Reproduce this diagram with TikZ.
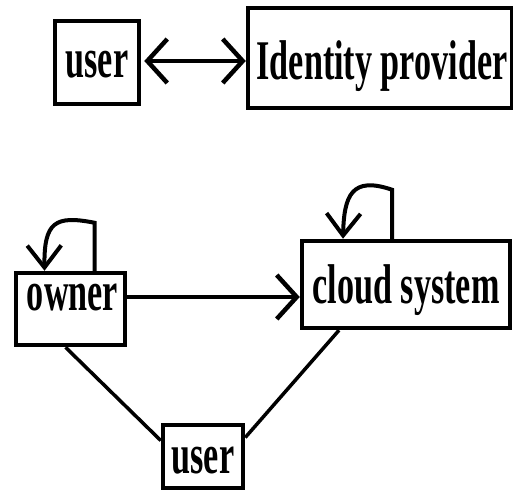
\documentclass[tikz,border=0pt]{standalone}
\usepackage{fontspec}
\usepackage{graphicx}
\setmainfont{Liberation Serif}
\usetikzlibrary{arrows.meta}
\newcommand\cond[1]{\scalebox{0.61}[1]{\bfseries #1}}
\tikzset{
  box/.style={draw, line width=4.5pt, inner sep=0pt, font=\fontsize{56}{56}\selectfont, text depth=0pt},
  barb/.tip={Straight Barb[length=20pt,width=44pt,line width=4.5pt]},
  sbarb/.tip={Straight Barb[length=22pt,width=34pt,line width=4pt]},
  conn/.style={line width=4.5pt},
  loop/.style={line width=4pt, -sbarb},
  plain/.style={line width=3.5pt}
}
\begin{document}
\begin{tikzpicture}[x=1pt,y=-1pt]
\useasboundingbox (0,0) rectangle (513,489);
\node[box, minimum width=84pt, minimum height=83pt, text height=31pt] (user) at (97,62.5) {\cond{user}};
\node[box, minimum width=264pt, minimum height=100pt, text height=44pt] (idp) at (380,58) {\hspace{4pt}\cond{Identity provider}};
\node[box, minimum width=109pt, minimum height=72pt, text height=2pt] (owner) at (70.5,309) {\hspace{4pt}\cond{owner}};
\node[box, minimum width=208pt, minimum height=87pt, text height=37pt] (cloud) at (406,284.5) {\cond{cloud system}};
\node[box, minimum width=80pt, minimum height=63pt, text height=33pt] (buser) at (203,456.5) {\cond{user}};

\draw[conn, barb-barb] ([xshift=3pt,yshift=1.5pt]user.east) -- ([yshift=1.5pt]user.east -| idp.west);
\draw[conn, -barb] ([yshift=12pt]owner.east) -- ([yshift=-12.5pt]cloud.west);
\draw[plain] ([xshift=-5pt]owner.south) -- ([yshift=16pt]buser.west);
\draw[plain] ([xshift=-67pt]cloud.south) -- ([yshift=19pt]buser.east);
\draw[loop] ([xshift=24pt]owner.north) -- ++(0,-48) .. controls (55,215) and (44,222) .. ([xshift=-26pt]owner.north);
\draw[loop] ([xshift=-14pt]cloud.north) -- ++(0,-49) .. controls (352,176) and (344,195) .. ([xshift=-63pt]cloud.north);
\end{tikzpicture}
\end{document}
